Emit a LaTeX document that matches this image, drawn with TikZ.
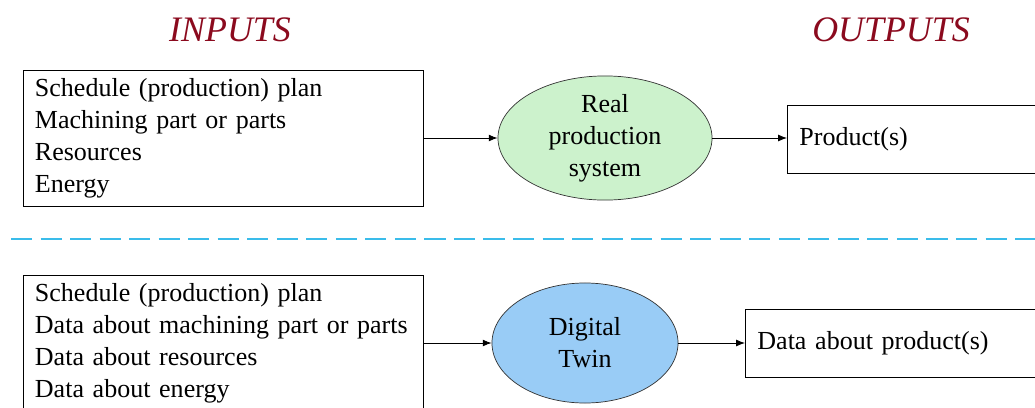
\documentclass[tikz,border=0pt]{standalone}
\usepackage{fontspec}
\setmainfont{Liberation Serif}
\usepackage{xcolor}
\definecolor{twinTitre}{HTML}{8B0A1E}
\definecolor{twinVert}{HTML}{CCF2CC}
\definecolor{twinBleu}{HTML}{99CCF6}
\definecolor{twinTirets}{HTML}{3ABCEA}
\usetikzlibrary{arrows.meta, positioning, shapes.geometric}
\tikzset{
  %% boxes and ellipses
  bloc/.style       = {draw=black, line width=0.6pt, align=left,
                       font=\fontsize{18.5}{22.8}\selectfont,
                       inner xsep=0.3cm, inner ysep=0pt},
  blocEntree/.style = {bloc, minimum width=10cm, text width=9.4cm,
                       minimum height=3.4cm},
  blocSortie/.style = {bloc, anchor=west, minimum width=8cm, text width=7.4cm,
                       minimum height=1.7cm, inner xsep=0.28cm},
  systeme/.style    = {ellipse, draw=black!80, line width=0.5pt, inner sep=0pt,
                       align=center, font=\fontsize{18.5}{22.8}\selectfont},
  %% arrows and rules
  fleche/.style     = {-{Latex[length=2.2mm, width=1.7mm]}, draw=black,
                       line width=0.6pt},
  separateur/.style = {draw=twinTirets, line width=1.9pt,
                       dash pattern=on 15pt off 6pt},
  %% text
  titreColonne/.style = {font=\fontsize{25.5}{30}\selectfont\itshape,
                       text=twinTitre},
}

\begin{document}
\begin{tikzpicture}[x=0.025cm, y=-0.025cm]
\useasboundingbox (0,0) rectangle (1035,408);
\clip (0,0) rectangle (1035,408);

\node[titreColonne] (titreIn)  at (230, 30) {INPUTS};
\node[titreColonne] (titreOut) at (891, 30) {OUTPUTS};

% real system
\node[blocEntree] (entreeReel) at (223, 138)
     {Schedule (production) plan\\Machining part or parts\\Resources\\Energy};
\node[systeme, fill=twinVert, minimum width=5.35cm, minimum height=2.98cm]
     (reel) at (605, 138) {Real\\production\\system};
\node[blocSortie] (sortieReel) at (787, 139) {Product(s)};

\draw[fleche] (entreeReel.east) -- (reel.west);
\draw[fleche] (reel.east) -- (reel.east -| sortieReel.west);

\coordinate (sepG) at (11, 239);
\coordinate (sepD) at (1045, 239);
\draw[separateur] (sepG) -- (sepD);

% digital twin
\node[blocEntree] (entreeJumeau) at (223, 343)
     {Schedule (production) plan\\Data about machining part or parts\\Data about resources\\Data about energy};
\node[systeme, fill=twinBleu, minimum width=4.65cm, minimum height=3cm]
     (jumeau) at (585, 343) {Digital\\Twin};
\node[blocSortie] (sortieJumeau) at (745, 343) {Data about product(s)};

\draw[fleche] (entreeJumeau.east) -- (jumeau.west);
\draw[fleche] (jumeau.east) -- (sortieJumeau.west);

\end{tikzpicture}
\end{document}
